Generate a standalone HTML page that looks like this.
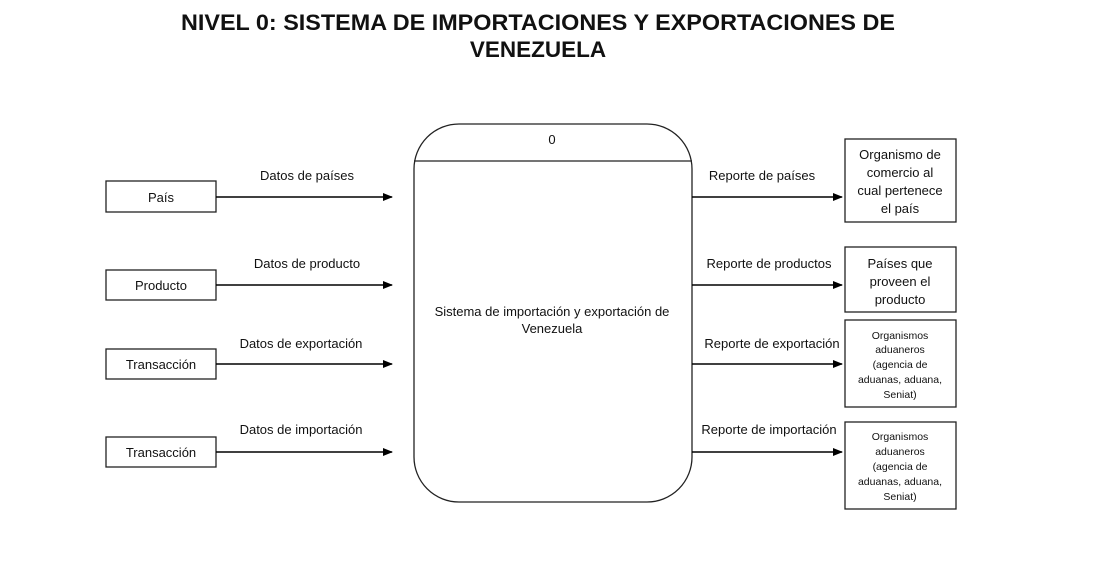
<!DOCTYPE html>
<html><head><meta charset="utf-8"><style>
body{margin:0;background:#fff;width:1098px;height:561px;overflow:hidden}
svg{display:block}
text{font-family:"Liberation Sans",Arial,sans-serif;fill:#111}
</style></head><body>
<svg width="1098" height="561" viewBox="0 0 1098 561">
<defs><marker id="a" markerWidth="10" markerHeight="8" refX="9" refY="4" orient="auto" markerUnits="userSpaceOnUse"><path d="M0,0 L10,4 L0,8 z" fill="#000"/></marker></defs>
<text x="538" y="30" font-size="22.5" font-weight="bold" text-anchor="middle" textLength="714" lengthAdjust="spacingAndGlyphs">NIVEL 0: SISTEMA DE IMPORTACIONES Y EXPORTACIONES DE</text>
<text x="538" y="57" font-size="22.5" font-weight="bold" text-anchor="middle">VENEZUELA</text>
<g fill="none" stroke="#222" stroke-width="1.3">
<rect x="414" y="124" width="278" height="378" rx="45" ry="45"/>
<line x1="414" y1="161" x2="692" y2="161"/>
<rect x="106" y="181" width="110" height="31"/>
<rect x="106" y="270" width="110" height="30"/>
<rect x="106" y="349" width="110" height="30"/>
<rect x="106" y="437" width="110" height="30"/>
<rect x="845" y="139" width="111" height="83"/>
<rect x="845" y="247" width="111" height="65"/>
<rect x="845" y="320" width="111" height="87"/>
<rect x="845" y="422" width="111" height="87"/>
</g>
<g stroke="#000" stroke-width="1.5" marker-end="url(#a)">
<line x1="216" y1="197" x2="392" y2="197"/>
<line x1="216" y1="285" x2="392" y2="285"/>
<line x1="216" y1="364" x2="392" y2="364"/>
<line x1="216" y1="452" x2="392" y2="452"/>
<line x1="692" y1="197" x2="842" y2="197"/>
<line x1="692" y1="285" x2="842" y2="285"/>
<line x1="692" y1="364" x2="842" y2="364"/>
<line x1="692" y1="452" x2="842" y2="452"/>
</g>
<g font-size="13" text-anchor="middle">
<text x="552" y="144">0</text>
<text x="552" y="316">Sistema de importación y exportación de</text>
<text x="552" y="333">Venezuela</text>
<text x="161" y="202">País</text>
<text x="161" y="290">Producto</text>
<text x="161" y="369">Transacción</text>
<text x="161" y="457">Transacción</text>
<text x="307" y="180">Datos de países</text>
<text x="307" y="268">Datos de producto</text>
<text x="301" y="348">Datos de exportación</text>
<text x="301" y="434">Datos de importación</text>
<text x="762" y="180">Reporte de países</text>
<text x="769" y="268">Reporte de productos</text>
<text x="772" y="348">Reporte de exportación</text>
<text x="769" y="434">Reporte de importación</text>
<text x="900" y="159">Organismo de</text>
<text x="900" y="177">comercio al</text>
<text x="900" y="195">cual pertenece</text>
<text x="900" y="213">el país</text>
<text x="900" y="268">Países que</text>
<text x="900" y="286">proveen el</text>
<text x="900" y="304">producto</text>
</g>
<g font-size="10.5" text-anchor="middle">
<text x="900" y="339">Organismos</text>
<text x="900" y="353">aduaneros</text>
<text x="900" y="368">(agencia de</text>
<text x="900" y="383">aduanas, aduana,</text>
<text x="900" y="398">Seniat)</text>
<text x="900" y="440">Organismos</text>
<text x="900" y="455">aduaneros</text>
<text x="900" y="470">(agencia de</text>
<text x="900" y="485">aduanas, aduana,</text>
<text x="900" y="500">Seniat)</text>
</g>
</svg>
</body></html>
